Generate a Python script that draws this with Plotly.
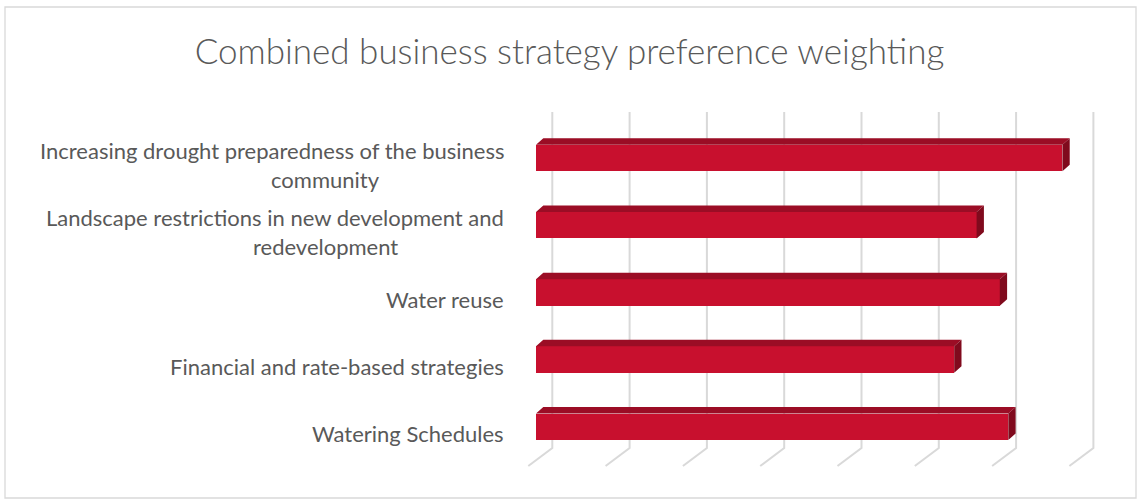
import plotly.graph_objects as go

# data
categories = [
    "Increasing drought preparedness of the business<br>community",
    "Landscape restrictions in new development and<br>redevelopment",
    "Water reuse",
    "Financial and rate-based strategies",
    "Watering Schedules",
]
weights = [6.81, 5.70, 6.00, 5.41, 6.11]
grid_ticks = [0, 1, 2, 3, 4, 5, 6, 7]

title = "Combined business strategy preference weighting"

# colours
front_col = "#C8102E"
top_col = "#9B0D25"
side_col = "#800A1D"
grid_col = "#D9D9D9"
text_col = "#595959"

# plot area in pixels (figure is 1139 x 499)
W, H = 1139, 499
L, R, T, B = 520, 1110, 100, 480
UX = 77.3   # px per value unit
UY = 67.2   # px per category
X0 = 536    # px of value 0 on the bar front plane
Y0 = 158    # px of first category centre

x_range = [(L - X0) / UX, (R - X0) / UX]
y_range = [(B - Y0) / UY, (T - Y0) / UY]   # reversed: first category on top

# oblique 3D offsets (converted to axis units)
bar_h = 0.394
bar_dx, bar_dy = 7.3 / UX, 6.5 / UY
wall_dx = 16.3 / UX
floor_dx = -7.7 / UX
wall_top = (112 - Y0) / UY
wall_bot = (448 - Y0) / UY
floor_front = (466 - Y0) / UY

idx = list(range(len(categories)))

fig = go.Figure()

# back wall + floor gridlines, kept below the bars
for k in grid_ticks:
    fig.add_shape(
        type="path", xref="x", yref="y", layer="below",
        path=f"M {k + wall_dx} {wall_top} L {k + wall_dx} {wall_bot} "
             f"L {k + floor_dx} {floor_front}",
        line=dict(color=grid_col, width=2),
    )

# front faces
fig.add_trace(go.Bar(x=weights, y=idx, orientation="h", width=bar_h,
                     marker=dict(color=front_col, line=dict(width=0)),
                     hoverinfo="skip", showlegend=False))

# top and side faces
tx, ty, sx, sy = [], [], [], []
for i, v in zip(idx, weights):
    top = i - bar_h / 2
    bot = i + bar_h / 2
    tx += [0, v, v + bar_dx, bar_dx, 0, None]
    ty += [top, top, top - bar_dy, top - bar_dy, top, None]
    sx += [v, v + bar_dx, v + bar_dx, v, v, None]
    sy += [top, top - bar_dy, bot - bar_dy, bot, top, None]
fig.add_trace(go.Scatter(x=tx, y=ty, mode="lines", fill="toself",
                         fillcolor=top_col, line=dict(width=0, color=top_col),
                         hoverinfo="skip", showlegend=False))
fig.add_trace(go.Scatter(x=sx, y=sy, mode="lines", fill="toself",
                         fillcolor=side_col, line=dict(width=0, color=side_col),
                         hoverinfo="skip", showlegend=False))

# category labels
font_lab = dict(family="Lato, Open Sans, sans-serif", size=22, color=text_col)
lab_right = (506 - L) / (R - L)
lab_centre = (325 - L) / (R - L)
line_gap = 29.5 / UY
for i, lab in zip(idx, categories):
    lines = lab.split("<br>")
    c = i + 7 / UY
    first = c - line_gap * (len(lines) - 1) / 2
    for j, line in enumerate(lines):
        fig.add_annotation(
            x=lab_right if j == 0 else lab_centre, xref="paper",
            y=first + j * line_gap, yref="y",
            text=line, showarrow=False,
            xanchor="right" if j == 0 else "center", yanchor="middle",
            font=font_lab,
        )

# chart border
fig.add_shape(type="rect", xref="paper", yref="paper",
              x0=(5 - L) / (R - L), x1=(1136 - L) / (R - L),
              y0=(B - 498) / (B - T), y1=(B - 7) / (B - T),
              line=dict(color=grid_col, width=1.3))

fig.update_layout(
    width=W, height=H, autosize=False,
    margin=dict(l=L, r=W - R, t=T, b=H - B),
    paper_bgcolor="white", plot_bgcolor="white",
    title=dict(text=title, x=0.5, xanchor="center", y=1 - 52 / H,
               yanchor="middle",
               font=dict(family="Lato, Open Sans, sans-serif", size=35,
                         weight=300, color=text_col)),
    bargap=0,
)
fig.update_xaxes(range=x_range, visible=False, fixedrange=True)
fig.update_yaxes(range=y_range, visible=False, fixedrange=True)

fig.write_html("out.html", config={"displayModeBar": False},
               post_script="document.body.style.margin='0';")
